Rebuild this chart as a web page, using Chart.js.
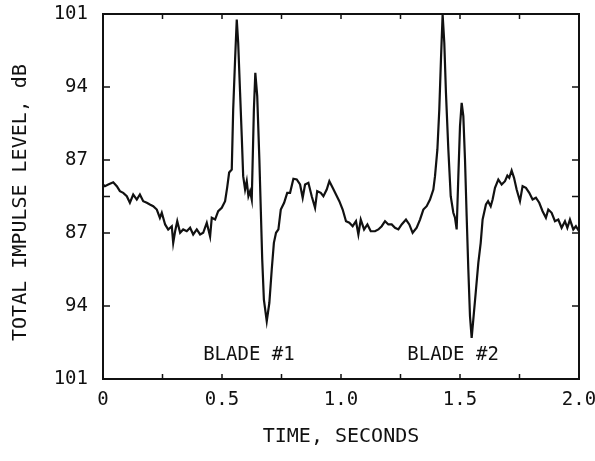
<!DOCTYPE html>
<html>
<head>
<meta charset="utf-8">
<script src="https://cdn.jsdelivr.net/npm/chart.js@4.4.1/dist/chart.umd.min.js"></script>
<style>
  html, body { margin: 0; padding: 0; background: #fff; }
  #wrap { width: 595px; height: 461px; position: relative; }
</style>
</head>
<body>
<div id="wrap"><canvas id="chart"></canvas></div>
<script>
// ---- data (time in s, level relative to centre line) ----
const timeSec = [
  0.000,0.008,0.022,0.043,0.058,0.071,0.085,0.100,0.113,0.127,
  0.142,0.155,0.169,0.184,0.197,0.211,0.226,0.239,0.247,0.261,
  0.274,0.289,0.295,0.303,0.312,0.324,0.337,0.352,0.366,0.379,
  0.394,0.408,0.421,0.436,0.450,0.457,0.471,0.484,0.499,0.513,
  0.522,0.530,0.541,0.547,0.555,0.562,0.568,0.576,0.583,0.589,
  0.597,0.604,0.611,0.618,0.625,0.629,0.634,0.640,0.648,0.657,
  0.663,0.669,0.676,0.688,0.699,0.709,0.718,0.727,0.737,0.747,
  0.761,0.774,0.786,0.800,0.814,0.828,0.839,0.849,0.863,0.877,
  0.891,0.900,0.915,0.926,0.940,0.951,0.965,0.979,0.993,1.007,
  1.021,1.035,1.049,1.063,1.073,1.083,1.097,1.111,1.125,1.143,
  1.157,1.171,1.185,1.199,1.213,1.227,1.241,1.255,1.273,1.287,
  1.301,1.318,1.332,1.346,1.360,1.374,1.388,1.395,1.405,1.413,
  1.420,1.427,1.434,1.441,1.451,1.461,1.472,1.479,1.486,1.493,
  1.500,1.507,1.514,1.521,1.528,1.535,1.542,1.549,1.556,1.566,
  1.577,1.587,1.595,1.609,1.618,1.629,1.637,1.647,1.661,1.675,
  1.689,1.699,1.707,1.717,1.727,1.738,1.752,1.763,1.777,1.791,
  1.805,1.819,1.833,1.847,1.861,1.871,1.885,1.899,1.913,1.927,
  1.941,1.951,1.962,1.976,1.987,2.000
];
const levelDb = [
  1.15,0.99,1.15,1.37,0.99,0.51,0.35,0.03,-0.60,0.19,
  -0.29,0.19,-0.45,-0.60,-0.77,-0.93,-1.25,-2.04,-1.56,-2.68,
  -3.16,-2.85,-4.44,-3.33,-2.37,-3.48,-3.16,-3.33,-3.00,-3.64,
  -3.16,-3.64,-3.48,-2.52,-3.84,-2.04,-2.21,-1.41,-1.08,-0.45,
  0.90,2.30,2.59,8.34,13.14,16.97,14.74,9.94,5.78,1.95,
  0.67,1.47,0.03,0.51,-0.29,3.55,8.34,11.86,9.62,3.55,
  -1.25,-6.04,-9.88,-11.96,-10.19,-7.00,-4.44,-3.48,-3.16,-1.25,
  -0.60,0.35,0.35,1.70,1.63,1.15,-0.12,1.15,1.31,0.03,
  -1.08,0.51,0.35,0.03,0.67,1.47,0.83,0.19,-0.45,-1.25,
  -2.37,-2.52,-2.85,-2.37,-3.64,-2.21,-3.16,-2.68,-3.33,-3.33,
  -3.16,-2.85,-2.37,-2.68,-2.68,-3.00,-3.16,-2.68,-2.21,-2.68,
  -3.48,-3.00,-2.21,-1.25,-0.93,-0.29,0.67,1.95,4.51,8.34,
  13.14,17.45,14.74,9.94,4.51,0.03,-1.56,-2.04,-3.16,1.95,
  6.74,8.98,7.70,3.55,-1.89,-7.00,-11.48,-13.55,-11.79,-9.23,
  -6.36,-4.44,-2.20,-0.77,-0.45,-0.93,-0.29,0.83,1.63,1.15,
  1.47,2.01,1.79,2.49,1.79,0.67,-0.45,0.99,0.83,0.35,
  -0.29,-0.12,-0.60,-1.41,-2.04,-1.25,-1.56,-2.37,-2.21,-3.00,
  -2.37,-3.00,-2.21,-3.16,-2.85,-3.33
];

// ---- ticks ----
const xTickValues = [0, 0.25, 0.5, 0.75, 1.0, 1.25, 1.5, 1.75, 2.0];
const xTickLabels = ["0", "", "0.5", "", "1.0", "", "1.5", "", "2.0"];
const yTickValues = [-17.5, -10.5, -3.5, 0, 3.5, 10.5, 17.5];
const yTickLabels = ["101", "94", "87", "", "87", "94", "101"];

// ---- annotations ----
const bladeLabels = ["BLADE #1", "BLADE #2"];
const bladeTimes = [0.613, 1.471];
const bladeLevel = -15.2;

const INK = "#111";
const FONT = "'DejaVu Sans Mono', monospace";

// frame, inward tick marks on all four sides, blade labels
const framePlugin = {
  id: "frame",
  afterDatasetsDraw(chart) {
    const { ctx, chartArea: a, scales: { x, y } } = chart;
    ctx.save();
    ctx.strokeStyle = INK;
    ctx.lineWidth = 2;
    ctx.strokeRect(a.left, a.top, a.right - a.left, a.bottom - a.top);

    ctx.lineWidth = 1.5;
    ctx.beginPath();
    xTickValues.forEach(v => {
      const px = x.getPixelForValue(v);
      ctx.moveTo(px, a.bottom); ctx.lineTo(px, a.bottom - 5);
      ctx.moveTo(px, a.top); ctx.lineTo(px, a.top + 5);
    });
    yTickValues.forEach(v => {
      const py = y.getPixelForValue(v);
      ctx.moveTo(a.left, py); ctx.lineTo(a.left + 7, py);
      ctx.moveTo(a.right, py); ctx.lineTo(a.right - 7, py);
    });
    ctx.stroke();

    ctx.fillStyle = INK;
    ctx.font = "19px " + FONT;
    ctx.textAlign = "center";
    ctx.textBaseline = "middle";
    bladeLabels.forEach((t, i) => {
      ctx.fillText(t, x.getPixelForValue(bladeTimes[i]), y.getPixelForValue(bladeLevel));
    });
    ctx.restore();
  }
};

new Chart(document.getElementById("chart"), {
  type: "line",
  data: {
    datasets: [{
      data: timeSec.map((t, i) => ({ x: t, y: levelDb[i] })),
      borderColor: INK,
      borderWidth: 2.2,
      pointRadius: 0,
      tension: 0,
      fill: false
    }]
  },
  options: {
    responsive: true,
    maintainAspectRatio: false,
    animation: false,
    layout: { padding: { top: 14, right: 16, left: 0, bottom: 0 } },
    plugins: { legend: { display: false }, tooltip: { enabled: false } },
    scales: {
      x: {
        type: "linear",
        min: 0,
        max: 2,
        afterBuildTicks: s => { s.ticks = xTickValues.map(v => ({ value: v })); },
        afterFit: s => { s.height = 82; s.paddingLeft = 0; s.paddingRight = 0; },
        grid: { display: false, drawTicks: false },
        border: { display: false },
        ticks: {
          autoSkip: false,
          maxRotation: 0,
          padding: 10,
          color: INK,
          font: { family: FONT, size: 19 },
          callback: (v, i) => xTickLabels[i]
        },
        title: {
          display: true,
          text: "TIME, SECONDS",
          color: INK,
          font: { family: FONT, size: 20 },
          padding: { top: 0, bottom: 12 }
        }
      },
      y: {
        type: "linear",
        min: -17.5,
        max: 17.5,
        afterBuildTicks: s => { s.ticks = yTickValues.map(v => ({ value: v })); },
        afterFit: s => { s.width = 103; s.paddingTop = 0; s.paddingBottom = 0; },
        grid: { display: false, drawTicks: false },
        border: { display: false },
        ticks: {
          autoSkip: false,
          padding: 15,
          color: INK,
          font: { family: FONT, size: 19 },
          callback: (v, i) => yTickLabels[i]
        },
        title: {
          display: true,
          text: "TOTAL IMPULSE LEVEL, dB ",
          color: INK,
          font: { family: FONT, size: 20 },
          padding: { top: 9, bottom: 0 }
        }
      }
    }
  },
  plugins: [framePlugin]
});
</script>
</body>
</html>
